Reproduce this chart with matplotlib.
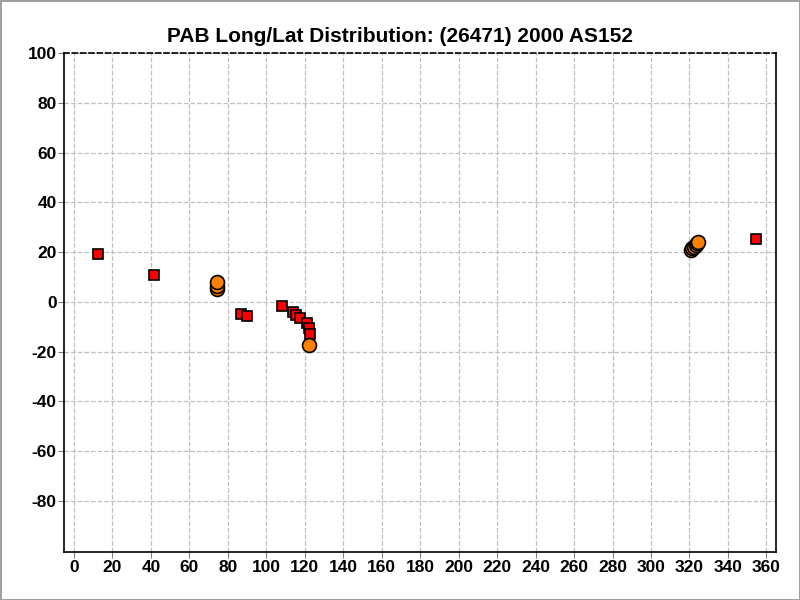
import numpy as np
import matplotlib.pyplot as plt

plt.rcParams['font.family'] = ['Liberation Sans', 'DejaVu Sans']
plt.rcParams['axes.unicode_minus'] = False

# Observations (longitude, latitude) - red squares
sq_long = [12.6, 41.7, 87.0, 90.0, 108.0, 114.0, 115.5, 117.6, 121.1, 122.1, 122.8, 354.4]
sq_lat = [19.4, 10.6, -5.0, -5.8, -1.8, -4.2, -5.4, -6.3, -8.6, -10.6, -13.0, 25.3]

# Stacked circles (orange)
ci_long = [74.3, 74.3, 74.3, 122.1, 320.6, 321.4, 322.3, 323.2, 324.0, 324.6]
ci_lat = [5.3, 6.5, 7.9, -17.3, 20.8, 21.5, 22.2, 22.9, 23.5, 24.0]

title = 'PAB Long/Lat Distribution: (26471) 2000 AS152'
xticks = np.arange(0, 361, 20)
yticks = np.arange(-80, 101, 20)

fig = plt.figure(figsize=(8, 6), dpi=100)
fig.patch.set_edgecolor('#a0a0a0')
fig.patch.set_linewidth(2)
ax = fig.add_axes([0.0805, 0.08, 0.8895, 0.8317])

ax.grid(True, ls='--', color='#c0c0c0', lw=0.9)
ax.set_axisbelow(True)

ax.plot(sq_long, sq_lat, 's', ms=7, mfc='#ff0000', mec='black', mew=1.2, ls='none', zorder=3)
for lo, la in zip(ci_long, ci_lat):
    ax.plot(lo, la, 'o', ms=10, mfc='#ff8000', mec='black', mew=1.2, zorder=4)

ax.set_xlim(-5, 365)
ax.set_ylim(-100.5, 100)
ax.set_xticks(xticks)
ax.set_yticks(yticks)
ax.tick_params(labelsize=12.5, length=4, color='#808080', pad=1.5)
for lab in ax.get_xticklabels() + ax.get_yticklabels():
    lab.set_fontweight('bold')

ax.spines['top'].set_linestyle((0, (3, 2)))
for s in ax.spines.values():
    s.set_linewidth(1.2)

fig.text(0.5, 0.94, title, ha='center', va='center', fontsize=15, fontweight='bold')

fig.savefig('out.png', dpi=100, edgecolor=fig.get_edgecolor())
